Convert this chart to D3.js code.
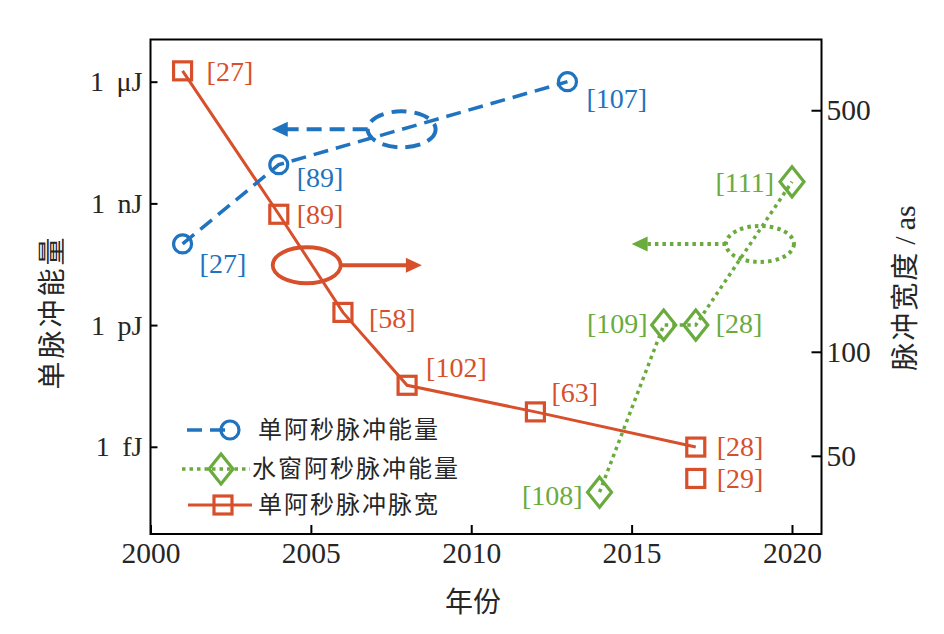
<!DOCTYPE html>
<html lang="zh">
<head>
  <meta charset="UTF-8">
  <title>阿秒脉冲能量与脉宽</title>
  <script src="https://d3js.org/d3.v7.min.js"></script>
  <style>
    body { margin: 0; background: #fff; }
    .tick text { font-family: 'Liberation Serif', 'Times New Roman', serif; font-size: 29.5px; fill: #262626; }
    .tick line { stroke: #000; stroke-width: 2; }
    .ref { font-family: 'Liberation Serif', 'Times New Roman', serif; font-size: 28px; }
    .cjk { font-family: 'Noto Sans CJK SC', sans-serif; fill: #262626; }
  </style>
</head>
<body>
  <svg width="944" height="634"></svg>
  <script>
    // single attosecond pulse energy (left axis, J)
    const blueYears = [2001, 2004, 2013];
    const blueEnergy = [1e-10, 9e-9, 1e-6];
    const blueRefs = ["[27]", "[89]", "[107]"];

    // water window attosecond pulse energy (left axis, J)
    const greenYears = [2014, 2016, 2017, 2020];
    const greenEnergy = [7.6e-17, 1e-12, 1e-12, 3.4e-9];
    const greenRefs = ["[108]", "[109]", "[28]", "[111]"];

    // single attosecond pulse width (right axis, as)
    const redYears = [2001, 2004, 2006, 2008, 2012, 2017];
    const redWidth = [650, 250, 130, 80, 67, 53];
    const redRefs = ["[27]", "[89]", "[58]", "[102]", "[63]", "[28]"];
    const redExtraYears = [2017];
    const redExtraWidth = [43];
    const redExtraRefs = ["[29]"];

    const yearTicks = [2000, 2005, 2010, 2015, 2020];
    const energyTicks = [1e-6, 1e-9, 1e-12, 1e-15];
    const energyTickLabels = ["1\u00a0\u2009μJ", "1\u00a0\u2009nJ", "1\u00a0\u2009pJ", "1\u00a0\u2009fJ"];
    const widthTicks = [500, 100, 50];

    const legendLabels = ["单阿秒脉冲能量", "水窗阿秒脉冲能量", "单阿秒脉冲脉宽"];

    // ellipse + arrow callouts: [year, value, arrow tip year]
    const blueCallout = [2007.83, 6.7e-8, 2003.78];
    const redCallout = [2004.87, 178, 2008.46];
    const greenCallout = [2019.0, 1e-10, 2015.0];

    const blue = "#1f73bf", red = "#d7502b", green = "#6aab3e";

    const margin = {top: 39.5, right: 122.5, bottom: 100, left: 150.5};
    const W = 944, H = 634;
    const width = W - margin.left - margin.right;
    const height = H - margin.top - margin.bottom;

    const svg = d3.select("svg");
    const g = svg.append("g").attr("transform", `translate(${margin.left},${margin.top})`);

    const x = d3.scaleLinear().domain([2000, 2020.92]).range([0, width]);
    const yE = d3.scaleLog().domain([Math.pow(10, -17.15), Math.pow(10, -4.96)]).range([height, 0]);
    const yW = d3.scaleLog().domain([29.7, 801]).range([height, 0]);

    // axes
    const xAxis = g.append("g").attr("transform", `translate(0,${height})`)
      .call(d3.axisBottom(x).tickValues(yearTicks).tickFormat(d3.format("d"))
        .tickSizeInner(-9).tickSizeOuter(0).tickPadding(8));
    const yAxisL = g.append("g")
      .call(d3.axisLeft(yE).tickValues(energyTicks).tickFormat((d, i) => energyTickLabels[i])
        .tickSizeInner(-7).tickSizeOuter(0).tickPadding(8));
    const yAxisR = g.append("g").attr("transform", `translate(${width},0)`)
      .call(d3.axisRight(yW).tickValues(widthTicks).tickFormat(d3.format("d"))
        .tickSizeInner(-10).tickSizeOuter(0).tickPadding(5));
    [xAxis, yAxisL, yAxisR].forEach(a => a.select(".domain").remove());
    yAxisL.selectAll(".tick text").style("font-size", "28px");

    g.append("rect").attr("width", width).attr("height", height)
      .attr("fill", "none").attr("stroke", "#000").attr("stroke-width", 2);

    // axis titles
    svg.append("text").attr("class", "cjk")
      .attr("x", 473).attr("y", 602).attr("text-anchor", "middle").attr("dy", "0.35em")
      .style("font-size", "28px").text("年份");
    svg.append("text").attr("class", "cjk")
      .attr("transform", "translate(52,312) rotate(-90)").attr("text-anchor", "middle").attr("dy", "0.35em")
      .style("font-size", "28px").style("letter-spacing", "3px").text("单脉冲能量");
    const rt = svg.append("text").attr("class", "cjk")
      .attr("transform", "translate(905,288) rotate(-90)").attr("text-anchor", "middle").attr("dy", "0.35em")
      .style("font-size", "28px").style("letter-spacing", "2px");
    rt.append("tspan").text("脉冲宽度");
    rt.append("tspan").style("font-family", "'Liberation Serif', serif").style("font-size", "30px")
      .style("letter-spacing", "0px").text("\u2009/\u2009as");

    // marker shapes
    function circle(sel, cx, cy, c) {
      sel.append("circle").attr("cx", cx).attr("cy", cy).attr("r", 9)
        .attr("fill", "none").attr("stroke", c).attr("stroke-width", 3.2);
    }
    function square(sel, cx, cy, c) {
      sel.append("rect").attr("x", cx - 9).attr("y", cy - 9).attr("width", 18).attr("height", 18)
        .attr("fill", "none").attr("stroke", c).attr("stroke-width", 3.2);
    }
    function diamond(sel, cx, cy, c) {
      sel.append("path").attr("d", `M${cx},${cy - 15}L${cx + 12},${cy}L${cx},${cy + 15}L${cx - 12},${cy}Z`)
        .attr("fill", "none").attr("stroke", c).attr("stroke-width", 3.2);
    }

    const blueDash = "15,8", greenDash = "3.5,4";

    // series lines
    const line = (xs, ys, sy) => d3.line()(xs.map((v, i) => [x(v), sy(ys[i])]));
    g.append("path").attr("d", line(redYears, redWidth, yW))
      .attr("fill", "none").attr("stroke", red).attr("stroke-width", 3);
    g.append("path").attr("d", line(blueYears, blueEnergy, yE))
      .attr("fill", "none").attr("stroke", blue).attr("stroke-width", 3.5).attr("stroke-dasharray", blueDash);
    g.append("path").attr("d", line(greenYears, greenEnergy, yE))
      .attr("fill", "none").attr("stroke", green).attr("stroke-width", 3.5).attr("stroke-dasharray", greenDash);

    // callouts
    function callout(cfg, sy, c, dash, sw) {
      const cx = x(cfg[0]), cy = sy(cfg[1]), tip = x(cfg[2]);
      const rx = 34, ry = 18;
      g.append("ellipse").attr("cx", cx).attr("cy", cy).attr("rx", rx).attr("ry", ry)
        .attr("fill", "none").attr("stroke", c).attr("stroke-width", sw).attr("stroke-dasharray", dash);
      const dir = tip < cx ? -1 : 1;
      const start = cx + dir * rx;
      const end = tip - dir * 13;
      g.append("line").attr("x1", start).attr("y1", cy).attr("x2", end).attr("y2", cy)
        .attr("stroke", c).attr("stroke-width", sw).attr("stroke-dasharray", dash);
      g.append("path").attr("d", `M${tip},${cy}L${tip - dir * 16},${cy - 7.5}L${tip - dir * 16},${cy + 7.5}Z`)
        .attr("fill", c);
    }
    callout(blueCallout, yE, blue, blueDash, 4);
    callout(redCallout, yW, red, null, 3.8);
    callout(greenCallout, yE, green, greenDash, 4);

    // markers
    blueYears.forEach((v, i) => circle(g, x(v), yE(blueEnergy[i]), blue));
    greenYears.forEach((v, i) => diamond(g, x(v), yE(greenEnergy[i]), green));
    redYears.forEach((v, i) => square(g, x(v), yW(redWidth[i]), red));
    redExtraYears.forEach((v, i) => square(g, x(v), yW(redExtraWidth[i]), red));

    // reference labels: offsets from the marker [dx, dy, anchor]
    const blueOff = [[17, 19, "start"], [18, 13, "start"], [19, 17, "start"]];
    const greenOff = [[-17, 3, "end"], [-16, -2, "end"], [20, -2, "start"], [-18, 0, "end"]];
    const redOff = [[24, 0, "start"], [18, 0, "start"], [26, 6, "start"], [19, -18, "start"], [16, -20, "start"], [21, -1, "start"]];
    const redExtraOff = [[21, 0, "start"]];

    function refs(xs, ys, sy, labels, off, c) {
      xs.forEach((v, i) => {
        g.append("text").attr("class", "ref")
          .attr("x", x(v) + off[i][0]).attr("y", sy(ys[i]) + off[i][1])
          .attr("dy", "0.35em").attr("text-anchor", off[i][2])
          .attr("fill", c).text(labels[i]);
      });
    }
    refs(blueYears, blueEnergy, yE, blueRefs, blueOff, blue);
    refs(greenYears, greenEnergy, yE, greenRefs, greenOff, green);
    refs(redYears, redWidth, yW, redRefs, redOff, red);
    refs(redExtraYears, redExtraWidth, yW, redExtraRefs, redExtraOff, red);

    // legend
    const legend = svg.append("g");
    const rowsY = [430, 469, 505];
    const legendColors = [blue, green, red];
    const legendDash = [blueDash, greenDash, null];
    const legendMarks = [circle, diamond, square];
    const legendMarkX = [230, 221, 223];
    const legendLine = [[187, 232], [182, 250], [188, 252]];
    const legendTextX = [258, 252, 258];
    rowsY.forEach((yy, i) => {
      legend.append("line").attr("x1", legendLine[i][0]).attr("x2", legendLine[i][1])
        .attr("y1", yy).attr("y2", yy)
        .attr("stroke", legendColors[i]).attr("stroke-width", i === 2 ? 3 : 3.5)
        .attr("stroke-dasharray", legendDash[i]);
      legendMarks[i](legend, legendMarkX[i], yy, legendColors[i]);
      legend.append("text").attr("class", "cjk")
        .attr("x", legendTextX[i]).attr("y", yy).attr("dy", "0.35em")
        .style("font-size", "24px").style("letter-spacing", "2px")
        .text(legendLabels[i]);
    });
  </script>
</body>
</html>
